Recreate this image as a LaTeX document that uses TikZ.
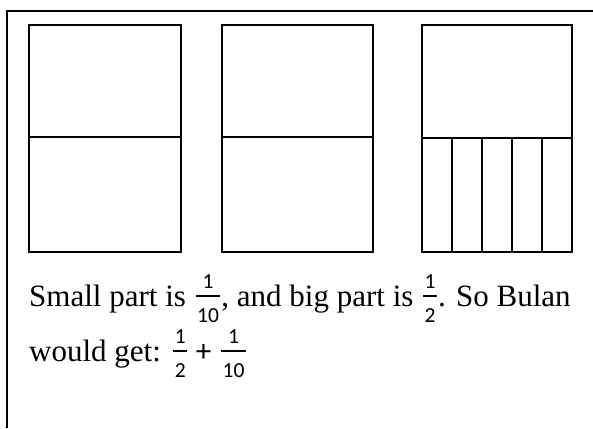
\documentclass[tikz,border=0pt]{standalone}
\usepackage{fontspec}
\setmainfont{Liberation Serif}
\newfontfamily\cf{Carlito}
\newcommand\frc[2]{%
  \setbox0=\hbox{\fontsize{21.5}{21.5}\cf #1}\setbox2=\hbox{\fontsize{21.5}{21.5}\cf #2}%
  \dimen0=\wd0 \ifdim\wd2>\dimen0 \dimen0=\wd2\fi
  \advance\dimen0 by 3pt\relax
  \kern2pt\relax
  \rlap{\raise 18pt\hbox to\dimen0{\hss\box0\hss}}%
  \rlap{\raise 9.5pt\hbox{\vrule width\dimen0 height 1.5pt depth 0pt}}%
  \rlap{\lower 16pt\hbox to\dimen0{\hss\box2\hss}}%
  \kern\dimen0\relax\kern1pt\relax}
\tikzset{
  frameline/.style={line width=1.6pt},
  boxline/.style={line width=1.5pt},
  txt/.style={anchor=base west, inner sep=0pt, font=\fontsize{31}{36}\selectfont}
}
\begin{document}
\begin{tikzpicture}[x=1pt,y=-1pt]
\useasboundingbox (0,0) rectangle (593,428);
% cell border (top and left only)
\draw[frameline] (7,428) -- (7,11) -- (593,11);
% box 1
\draw[boxline] (29,25) rectangle (181,252);
\draw[boxline] (29,137) -- (181,137);
% box 2
\draw[boxline] (222,25) rectangle (373,252);
\draw[boxline] (222,137) -- (373,137);
% box 3
\draw[boxline] (422,25) rectangle (572,252);
\draw[boxline] (422,138) -- (572,138);
\foreach \x in {452,482,512,542}
  \draw[boxline] (\x,138) -- (\x,252);
% text
\node[txt] (line1) at (29,306) {Small part is \frc{1}{10}, and big part is \frc{1}{2}. So Bulan};
\node[txt] (line2) at (29,361) {would get: \frc{1}{2} {\cf +} \frc{1}{10}};
\end{tikzpicture}
\end{document}
